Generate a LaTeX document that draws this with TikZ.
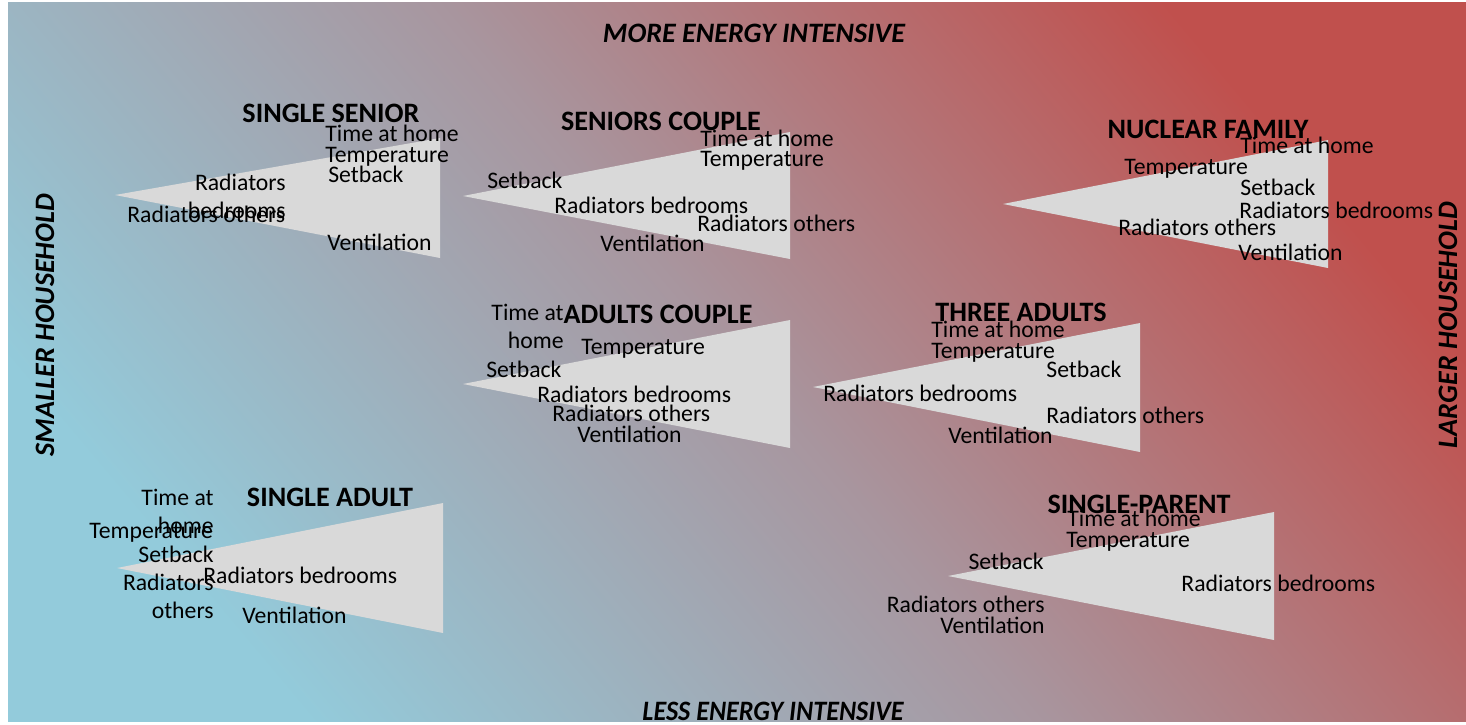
\documentclass[tikz,border=0pt]{standalone}
\usepackage{fontspec}
\setmainfont{Carlito}
\usepackage{xcolor}
\usepackage{tikz}

\definecolor{blau}{HTML}{93CBDB}
\definecolor{rot}{HTML}{C0504D}
\definecolor{mitte}{HTML}{A8969F}
\definecolor{hellgrau}{HTML}{D9D9D9}

\begin{document}
\begin{tikzpicture}[x=0.02cm,y=-0.02cm,
dreieck/.style={fill=hellgrau},
eintrag/.style={inner sep=0pt, font=\fontsize{13.5}{16}\selectfont},
links/.style={eintrag, anchor=base west},
rechts/.style={eintrag, anchor=base east},
zweizeilig/.style={eintrag, anchor=east, align=right},
titel/.style={inner sep=0pt, font=\fontsize{16}{19}\selectfont\bfseries},
achse/.style={titel, font=\fontsize{16}{19}\selectfont\bfseries\itshape},
]
\useasboundingbox (0,0) rectangle (1466,724);
\fill[white] (0,0) rectangle (1466,724);
\shade[bottom color=blau, top color=rot, middle color=mitte, shading angle=-50]
  (8,2) rectangle (1466,721);

% Achsen
\node[achse] (mehr) at (754,33) {MORE ENERGY INTENSIVE};
\node[achse, xscale=0.93] (weniger) at (773,711) {LESS ENERGY INTENSIVE};
\node[achse, rotate=90] (klein) at (45,325) {SMALLER HOUSEHOLD};
\node[achse, rotate=90] (gross) at (1448,325) {LARGER HOUSEHOLD};

% single senior
\fill[dreieck] (115,195) -- (440,138) -- (440,258) -- cycle;
\node[titel] (ss) at (331,113) {SINGLE SENIOR};
\node[links] (ss1) at (325,141) {Time at home};
\node[links] (ss2) at (325,162) {Temperature};
\node[links] (ss3) at (328,182) {Setback};
\node[zweizeilig] (ss4) at (286,196) {Radiators\\bedrooms};
\node[links] (ss5) at (127,222) {Radiators others};
\node[links] (ss6) at (327,250) {Ventilation};

% seniors couple
\fill[dreieck] (463,196) -- (790,132) -- (790,259) -- cycle;
\node[titel] (sc) at (661,121) {SENIORS COUPLE};
\node[links] (sc1) at (700,146) {Time at home};
\node[links] (sc2) at (700,166) {Temperature};
\node[links] (sc3) at (487,188) {Setback};
\node[links] (sc4) at (554,213) {Radiators bedrooms};
\node[links] (sc5) at (697,231) {Radiators others};
\node[links] (sc6) at (600,251) {Ventilation};

% nuclear family
\fill[dreieck] (1003,204) -- (1328,140) -- (1328,268) -- cycle;
\node[titel] (nf) at (1208,129) {NUCLEAR FAMILY};
\node[links] (nf1) at (1240,153) {Time at home};
\node[links] (nf2) at (1124,174) {Temperature};
\node[links] (nf3) at (1240,195) {Setback};
\node[links] (nf4) at (1239,218) {Radiators bedrooms};
\node[links] (nf5) at (1118,235) {Radiators others};
\node[links] (nf6) at (1238,260) {Ventilation};

% adults couple
\fill[dreieck] (463,384) -- (790,320) -- (790,448) -- cycle;
\node[titel] (ac) at (658,314) {ADULTS COUPLE};
\node[zweizeilig] (ac1) at (564,326) {Time at\\home};
\node[links] (ac2) at (581,354) {Temperature};
\node[links] (ac3) at (486,377) {Setback};
\node[links] (ac4) at (537,402) {Radiators bedrooms};
\node[links] (ac5) at (552,421) {Radiators others};
\node[links] (ac6) at (577,442) {Ventilation};

% three adults
\fill[dreieck] (813,387) -- (1140,323) -- (1140,452) -- cycle;
\node[titel] (ta) at (1021,312) {THREE ADULTS};
\node[links] (ta1) at (931,337) {Time at home};
\node[links] (ta2) at (931,358) {Temperature};
\node[links] (ta3) at (1046,377) {Setback};
\node[links] (ta4) at (823,401) {Radiators bedrooms};
\node[links] (ta5) at (1046,423) {Radiators others};
\node[links] (ta6) at (948,443) {Ventilation};

% single adult
\fill[dreieck] (117,568) -- (443,503) -- (443,633) -- cycle;
\node[titel] (sa) at (330,497) {SINGLE ADULT};
\node[zweizeilig] (sa1) at (214,511) {Time at\\home};
\node[links] (sa2) at (89,538) {Temperature};
\node[rechts] (sa3) at (214,562) {Setback};
\node[links] (sa4) at (203,583) {Radiators bedrooms};
\node[zweizeilig] (sa5) at (214,596) {Radiators\\others};
\node[links] (sa6) at (242,623) {Ventilation};

% single parent
\fill[dreieck] (948,576) -- (1274,512) -- (1274,640) -- cycle;
\node[titel] (sp) at (1139,504) {SINGLE-PARENT};
\node[links] (sp1) at (1067,526) {Time at home};
\node[links] (sp2) at (1066,547) {Temperature};
\node[rechts] (sp3) at (1044,569) {Setback};
\node[links] (sp4) at (1181,591) {Radiators bedrooms};
\node[rechts] (sp5) at (1045,612) {Radiators others};
\node[rechts] (sp6) at (1045,633) {Ventilation};

\end{tikzpicture}
\end{document}
